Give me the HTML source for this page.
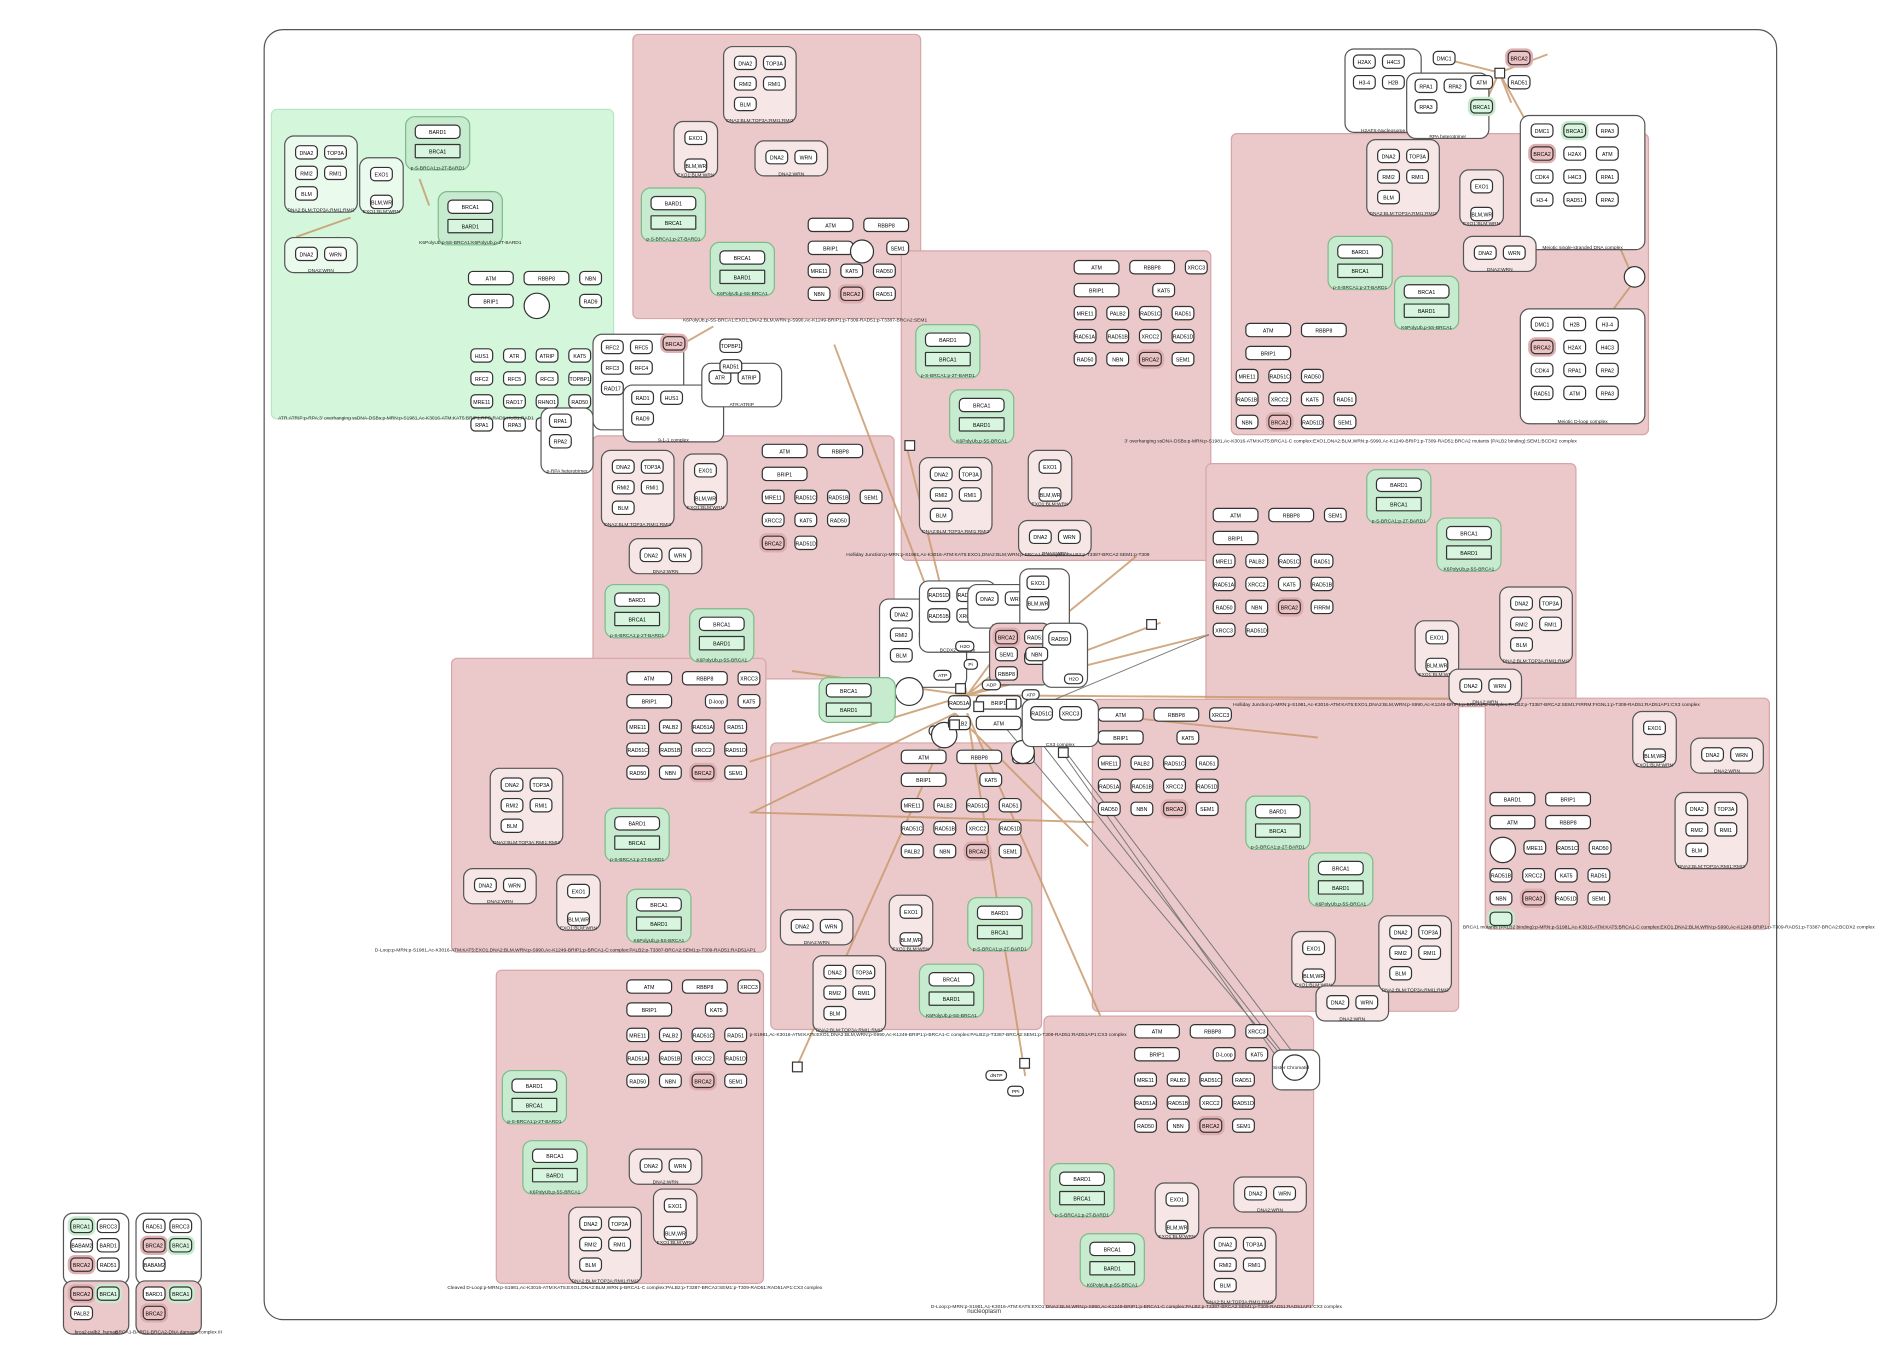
<!DOCTYPE html>
<html><head><meta charset="utf-8">
<style>
html,body{margin:0;padding:0;background:#fff;width:1886px;height:1350px;overflow:hidden}
#w{position:absolute;left:0;top:0;width:1560px;height:1117px;transform:scale(1.209);transform-origin:0 0;font-family:"Liberation Sans",sans-serif}
.o{position:absolute;left:218px;top:24px;width:1250px;height:1066px;border:1.3px solid #555;border-radius:16px}
.p{position:absolute;background:#ebc8ca;border:1px solid #d6a6a8;border-radius:5px}
.gc{position:absolute;background:#d4f7dc;border:1px solid #b8e6c2;border-radius:5px}
.c,.cw,.cg{position:absolute;display:grid;grid-template-columns:repeat(2,19px);grid-auto-rows:12px;gap:5px 5px;padding:7px 8px 9px;border:0.7px solid #555;border-radius:8px;background:#f6e6e6;align-content:start}
.cw{background:#fff}
.cg{background:#c6ebcf;border-color:#7dbb8a;grid-template-columns:38px;padding:6px 7px 9px;gap:4px}
.cg i:nth-child(2){background:#d8f6df;border-radius:1px}
.c b,.cw b,.cg b,.lb{position:absolute;left:-20px;right:-20px;bottom:-1px;font:normal 4px "Liberation Sans",sans-serif;text-align:center;white-space:nowrap;color:#222}
.lb{position:absolute;left:auto;right:auto;bottom:auto}
i{font-style:normal;display:block;height:12px;border:0.7px solid #333;border-radius:4px;background:#fff;font:4.3px "Liberation Sans",sans-serif;text-align:center;line-height:12px;white-space:nowrap;overflow:hidden;box-sizing:border-box}
i.w{width:38px}
i.r{background:#ebc3c4;box-shadow:0 0 0 2px #e0aeb0}
i.gg{background:#d8f6df;box-shadow:0 0 0 2px #c6ebcf}
.g{position:absolute;display:grid;grid-auto-rows:12px;gap:7px 8px;grid-template-columns:repeat(4,19px)}
.ci{position:absolute;border:0.7px solid #333;border-radius:50%;background:#fff}
.pl{position:absolute;height:7px;border:0.7px solid #333;border-radius:4px;background:#fff;font:4px "Liberation Sans",sans-serif;line-height:7px;text-align:center;padding:0 3px}
.sq{position:absolute;width:7px;height:7px;border:0.7px solid #333;background:#fff}
svg{position:absolute;left:0;top:0}
</style></head><body><div id="w">
<div class="o"></div>
<div style="position:absolute;left:800px;top:1082px;font:5px 'Liberation Sans';color:#333">nucleoplasm</div>

<!-- compartments -->
<div class="gc" style="left:224px;top:90px;width:282px;height:255px"></div>
<div class="p" style="left:523px;top:28px;width:237px;height:234px"></div>
<div class="p" style="left:745px;top:207px;width:255px;height:255px"></div>
<div class="p" style="left:1018px;top:110px;width:344px;height:248px"></div>
<div class="p" style="left:490px;top:360px;width:248px;height:200px"></div>
<div class="p" style="left:997px;top:383px;width:305px;height:200px"></div>
<div class="p" style="left:373px;top:544px;width:259px;height:242px"></div>
<div class="p" style="left:637px;top:614px;width:223px;height:236px"></div>
<div class="p" style="left:903px;top:578px;width:302px;height:257px"></div>
<div class="p" style="left:1228px;top:577px;width:234px;height:190px"></div>
<div class="p" style="left:410px;top:802px;width:220px;height:258px"></div>
<div class="p" style="left:863px;top:840px;width:222px;height:240px"></div>

<!-- lines -->
<svg width="1560" height="1117" viewBox="0 0 1560 1117">
<g stroke="#c99a6e" stroke-width="1.6" fill="none" opacity="0.85">
<path d="M800 575 L690 285"/><path d="M800 575 L750 370"/><path d="M800 575 L940 460"/>
<path d="M800 575 L1000 525"/><path d="M800 575 L1230 578"/><path d="M800 575 L620 630"/>
<path d="M790 590 L622 672"/><path d="M790 590 L900 700"/><path d="M800 590 L910 840"/>
<path d="M790 590 L660 880"/><path d="M800 590 L848 890"/><path d="M800 575 L655 555"/>
<path d="M800 575 L840 520"/><path d="M800 575 L960 515"/><path d="M805 580 L1090 610"/>
<path d="M620 672 L905 680"/><path d="M1240 60 L1280 45"/><path d="M1240 60 L1200 50"/>
<path d="M1240 60 L1250 85"/><path d="M1240 60 L1262 100"/><path d="M1240 60 L1224 95"/>
<path d="M1340 205 L1350 228"/><path d="M1350 235 L1335 255"/><path d="M555 290 L590 270"/><path d="M555 290 L520 320"/>
<path d="M245 196 L290 180"/><path d="M280 196 L262 212"/><path d="M347 148 L355 170"/>
</g>
<g stroke="#777" stroke-width="0.8" fill="none">
<path d="M830 600 L1070 885"/><path d="M850 600 L1068 880"/><path d="M870 610 L1060 880"/><path d="M880 620 L1075 878"/><path d="M845 590 L1000 525"/>
</g>
</svg>

<!-- GREEN compartment content -->
<div class="c" style="left:235px;top:112px;background:#eafbee"><i>DNA2</i><i>TOP3A</i><i>RMI2</i><i>RMI1</i><i>BLM</i><b>DNA2:BLM:TOP3A:RMI1:RMI2</b></div>
<div class="c" style="left:297px;top:130px;grid-template-columns:19px;background:#eafbee"><i>EXO1</i><i style="margin-top:6px">BLM,WRN</i><b>EXO1:BLM:WRN</b></div>
<div class="c" style="left:235px;top:196px;background:#eafbee"><i>DNA2</i><i>WRN</i><b>DNA2:WRN</b></div>
<div class="cg" style="left:335px;top:96px"><i class="w">BARD1</i><i class="w">BRCA1</i><b>p-S-BRCA1:p-2T-BARD1</b></div>
<div class="cg" style="left:362px;top:158px"><i class="w">BRCA1</i><i class="w">BARD1</i><b>K6PolyUb,p-5S-BRCA1:K6PolyUb,p-2T-BARD1</b></div>
<div class="g" style="left:387px;top:224px;grid-template-columns:38px 38px 19px"><i>ATM</i><i>RBBP8</i><i>NBN</i><i>BRIP1</i><i style="visibility:hidden"></i><i>RAD9</i></div>
<div class="ci" style="left:433px;top:242px;width:20px;height:20px"></div>
<div class="g" style="left:389px;top:288px"><i>HUS1</i><i>ATR</i><i>ATRIP</i><i>KAT5</i><i>RFC2</i><i>RFC5</i><i>RFC3</i><i>TOPBP1</i><i>MRE11</i><i>RAD17</i><i>RHNO1</i><i>RAD50</i><i>RPA1</i><i>RPA3</i><i>RFC4</i><i>RPA2</i></div>
<div class="lb" style="left:230px;top:343px">ATR:ATRIP:p-RPA:3' overhanging ssDNA-DSBs:p-MRN:p-S1981,Ac-K3016-ATM:KAT5:BRIP1:RFC:RAD9:HUS1:RAD1</div>
<!-- left small white cluster -->
<div class="cw" style="left:490px;top:276px;width:62px;height:70px;padding:4px 6px"><i>RFC2</i><i>RFC5</i><i>RFC3</i><i>RFC4</i><i>RAD17</i><b>RAD17-RFC</b></div>
<div class="cw" style="left:515px;top:318px;width:70px;height:38px;padding:4px 6px"><i>RAD1</i><i>HUS1</i><i>RAD9</i><b>9-1-1 complex</b></div>
<div class="cw" style="left:580px;top:300px;width:55px;height:25px;padding:5px"><i>ATR</i><i>ATRIP</i><b>ATR:ATRIP</b></div>
<div class="cw" style="left:447px;top:337px;width:30px;height:45px;grid-template-columns:19px;padding:4px 6px"><i>RPA1</i><i>RPA2</i><b>p-RPA heterotrimer</b></div>
<div class="g" style="left:595px;top:280px;grid-template-columns:19px;gap:5px"><i>TOPBP1</i><i>RAD51</i></div>
<i class="r" style="position:absolute;left:548px;top:278px;width:19px">BRCA2</i>

<!-- PINK A -->
<div class="c" style="left:598px;top:38px"><i>DNA2</i><i>TOP3A</i><i>RMI2</i><i>RMI1</i><i>BLM</i><b>DNA2:BLM:TOP3A:RMI1:RMI2</b></div>
<div class="c" style="left:557px;top:100px;grid-template-columns:19px"><i>EXO1</i><i style="margin-top:6px">BLM,WRN</i><b>EXO1:BLM:WRN</b></div>
<div class="c" style="left:624px;top:116px"><i>DNA2</i><i>WRN</i><b>DNA2:WRN</b></div>
<div class="cg" style="left:530px;top:155px"><i class="w">BARD1</i><i class="w">BRCA1</i><b>p-S-BRCA1:p-2T-BARD1</b></div>
<div class="cg" style="left:587px;top:200px"><i class="w">BRCA1</i><i class="w">BARD1</i><b>K6PolyUb,p-5S-BRCA1</b></div>
<div class="g" style="left:668px;top:180px;grid-template-columns:38px 38px"><i>ATM</i><i>RBBP8</i><i>BRIP1</i><i style="width:19px;margin-left:19px">SEM1</i></div>
<div class="g" style="left:668px;top:218px;grid-template-columns:repeat(3,19px)"><i>MRE11</i><i>KAT5</i><i>RAD50</i><i>NBN</i><i class="r">BRCA2</i><i>RAD51</i></div>
<div class="ci" style="left:703px;top:198px;width:18px;height:18px"></div>
<div class="lb" style="left:565px;top:262px">K6PolyUb,p-5S-BRCA1:EXO1,DNA2:BLM,WRN:p-S990,Ac-K1249-BRIP1:p-T309-RAD51:p-T3387-BRCA2:SEM1</div>

<!-- top right white complexes -->
<div class="cw" style="left:1112px;top:40px;width:50px;height:60px;padding:4px 6px"><i>H2AX</i><i>H4C3</i><i>H3-4</i><i>H2B</i><b>H2AFX-Nucleosome</b></div>
<div class="cw" style="left:1163px;top:60px;width:55px;height:45px;padding:4px 6px"><i>RPA1</i><i>RPA2</i><i>RPA3</i><b>RPA heterotrimer</b></div>
<div class="g" style="left:1185px;top:42px;grid-template-columns:19px 19px 19px;gap:8px 12px"><i>DMC1</i><i class="r" style="grid-column:3">BRCA2</i><i style="grid-column:2">ATM</i><i>RAD51</i><i style="grid-column:1;margin-left:30px">CDK4</i><i class="gg" style="grid-column:2">BRCA1</i></div>
<div class="cw" style="left:1257px;top:95px;width:86px;height:98px;grid-template-columns:repeat(3,19px);gap:7px 8px;padding:6px 8px"><i>DMC1</i><i class="gg">BRCA1</i><i>RPA3</i><i class="r">BRCA2</i><i>H2AX</i><i>ATM</i><i>CDK4</i><i>H4C3</i><i>RPA1</i><i>H3-4</i><i>RAD51</i><i>RPA2</i><b>Meiotic single-stranded DNA complex</b></div>
<div class="cw" style="left:1257px;top:255px;width:86px;height:82px;grid-template-columns:repeat(3,19px);gap:7px 8px;padding:6px 8px"><i>DMC1</i><i>H2B</i><i>H3-4</i><i class="r">BRCA2</i><i>H2AX</i><i>H4C3</i><i>CDK4</i><i>RPA1</i><i>RPA2</i><i>RAD51</i><i>ATM</i><i>RPA3</i><b>Meiotic D-loop complex</b></div>
<div class="ci" style="left:1343px;top:220px;width:16px;height:16px"></div>
<div class="sq" style="left:1236px;top:56px"></div>

<!-- PINK B -->
<div class="cg" style="left:757px;top:268px"><i class="w">BARD1</i><i class="w">BRCA1</i><b>p-S-BRCA1:p-2T-BARD1</b></div>
<div class="cg" style="left:785px;top:322px"><i class="w">BRCA1</i><i class="w">BARD1</i><b>K6PolyUb,p-5S-BRCA1</b></div>
<div class="g" style="left:888px;top:215px;grid-template-columns:38px 38px 19px"><i>ATM</i><i>RBBP8</i><i>XRCC3</i><i>BRIP1</i><i style="width:19px;margin-left:19px">KAT5</i></div>
<div class="g" style="left:888px;top:253px;grid-template-columns:repeat(4,19px)"><i>MRE11</i><i>PALB2</i><i>RAD51C</i><i>RAD51</i><i>RAD51AP1</i><i>RAD51B</i><i>XRCC2</i><i>RAD51D</i><i>RAD50</i><i>NBN</i><i class="r">BRCA2</i><i>SEM1</i></div>
<div class="c" style="left:760px;top:378px"><i>DNA2</i><i>TOP3A</i><i>RMI2</i><i>RMI1</i><i>BLM</i><b>DNA2:BLM:TOP3A:RMI1:RMI2</b></div>
<div class="c" style="left:850px;top:372px;grid-template-columns:19px"><i>EXO1</i><i style="margin-top:6px">BLM,WRN</i><b>EXO1:BLM:WRN</b></div>
<div class="c" style="left:842px;top:430px"><i>DNA2</i><i>WRN</i><b>DNA2:WRN</b></div>
<div class="lb" style="left:930px;top:362px">3' overhanging ssDNA-DSBs:p-MRN:p-S1981,Ac-K3016-ATM:KAT5:BRCA1-C complex:EXO1,DNA2:BLM,WRN:p-S990,Ac-K1249-BRIP1:p-T309-RAD51:BRCA2 mutants (PALB2 binding):SEM1:BCDX2 complex</div>

<!-- PINK C -->
<div class="c" style="left:1130px;top:115px"><i>DNA2</i><i>TOP3A</i><i>RMI2</i><i>RMI1</i><i>BLM</i><b>DNA2:BLM:TOP3A:RMI1:RMI2</b></div>
<div class="c" style="left:1207px;top:140px;grid-template-columns:19px"><i>EXO1</i><i style="margin-top:6px">BLM,WRN</i><b>EXO1:BLM:WRN</b></div>
<div class="c" style="left:1210px;top:195px"><i>DNA2</i><i>WRN</i><b>DNA2:WRN</b></div>
<div class="cg" style="left:1098px;top:195px"><i class="w">BARD1</i><i class="w">BRCA1</i><b>p-S-BRCA1:p-2T-BARD1</b></div>
<div class="cg" style="left:1153px;top:228px"><i class="w">BRCA1</i><i class="w">BARD1</i><b>K6PolyUb,p-5S-BRCA1</b></div>
<div class="g" style="left:1030px;top:267px;grid-template-columns:38px 38px"><i>ATM</i><i>RBBP8</i><i>BRIP1</i></div>
<div class="g" style="left:1022px;top:305px;grid-template-columns:repeat(4,19px)"><i>MRE11</i><i>RAD51C</i><i>RAD50</i><i style="visibility:hidden"></i><i>RAD51B</i><i>XRCC2</i><i>KAT5</i><i>RAD51</i><i>NBN</i><i class="r">BRCA2</i><i>RAD51D</i><i>SEM1</i></div>

<!-- PINK D -->
<div class="c" style="left:497px;top:372px"><i>DNA2</i><i>TOP3A</i><i>RMI2</i><i>RMI1</i><i>BLM</i><b>DNA2:BLM:TOP3A:RMI1:RMI2</b></div>
<div class="c" style="left:565px;top:375px;grid-template-columns:19px"><i>EXO1</i><i style="margin-top:6px">BLM,WRN</i><b>EXO1:BLM:WRN</b></div>
<div class="c" style="left:520px;top:445px"><i>DNA2</i><i>WRN</i><b>DNA2:WRN</b></div>
<div class="cg" style="left:500px;top:483px"><i class="w">BARD1</i><i class="w">BRCA1</i><b>p-S-BRCA1:p-2T-BARD1</b></div>
<div class="cg" style="left:570px;top:503px"><i class="w">BRCA1</i><i class="w">BARD1</i><b>K6PolyUb,p-5S-BRCA1</b></div>
<div class="g" style="left:630px;top:367px;grid-template-columns:38px 38px"><i>ATM</i><i>RBBP8</i><i>BRIP1</i></div>
<div class="g" style="left:630px;top:405px;grid-template-columns:repeat(4,19px)"><i>MRE11</i><i>RAD51C</i><i>RAD51B</i><i>SEM1</i><i>XRCC2</i><i>KAT5</i><i>RAD50</i><i style="visibility:hidden"></i><i class="r">BRCA2</i><i>RAD51D</i></div>

<!-- PINK E -->
<div class="g" style="left:1003px;top:420px;grid-template-columns:38px 38px 19px"><i>ATM</i><i>RBBP8</i><i>SEM1</i><i>BRIP1</i></div>
<div class="g" style="left:1003px;top:458px;grid-template-columns:repeat(4,19px)"><i>MRE11</i><i>PALB2</i><i>RAD51C</i><i>RAD51</i><i>RAD51AP1</i><i>XRCC2</i><i>KAT5</i><i>RAD51B</i><i>RAD50</i><i>NBN</i><i class="r">BRCA2</i><i>FIRRM</i><i>XRCC3</i><i>RAD51D</i></div>
<div class="cg" style="left:1130px;top:388px"><i class="w">BARD1</i><i class="w">BRCA1</i><b>p-S-BRCA1:p-2T-BARD1</b></div>
<div class="cg" style="left:1188px;top:428px"><i class="w">BRCA1</i><i class="w">BARD1</i><b>K6PolyUb,p-5S-BRCA1</b></div>
<div class="c" style="left:1240px;top:485px"><i>DNA2</i><i>TOP3A</i><i>RMI2</i><i>RMI1</i><i>BLM</i><b>DNA2:BLM:TOP3A:RMI1:RMI2</b></div>
<div class="c" style="left:1170px;top:513px;grid-template-columns:19px"><i>EXO1</i><i style="margin-top:6px">BLM,WRN</i><b>EXO1:BLM:WRN</b></div>
<div class="c" style="left:1198px;top:553px"><i>DNA2</i><i>WRN</i><b>DNA2:WRN</b></div>

<!-- PINK F -->
<div class="g" style="left:518px;top:555px;grid-template-columns:38px 38px 19px"><i>ATM</i><i>RBBP8</i><i>XRCC3</i><i>BRIP1</i><i style="width:19px;margin-left:19px">D-loop</i><i>KAT5</i></div>
<div class="g" style="left:518px;top:595px;grid-template-columns:repeat(4,19px)"><i>MRE11</i><i>PALB2</i><i>RAD51AP1</i><i>RAD51</i><i>RAD51C</i><i>RAD51B</i><i>XRCC2</i><i>RAD51D</i><i>RAD50</i><i>NBN</i><i class="r">BRCA2</i><i>SEM1</i></div>
<div class="c" style="left:405px;top:635px"><i>DNA2</i><i>TOP3A</i><i>RMI2</i><i>RMI1</i><i>BLM</i><b>DNA2:BLM:TOP3A:RMI1:RMI2</b></div>
<div class="c" style="left:383px;top:718px"><i>DNA2</i><i>WRN</i><b>DNA2:WRN</b></div>
<div class="c" style="left:460px;top:723px;grid-template-columns:19px"><i>EXO1</i><i style="margin-top:6px">BLM,WRN</i><b>EXO1:BLM:WRN</b></div>
<div class="cg" style="left:500px;top:668px"><i class="w">BARD1</i><i class="w">BRCA1</i><b>p-S-BRCA1:p-2T-BARD1</b></div>
<div class="cg" style="left:518px;top:735px"><i class="w">BRCA1</i><i class="w">BARD1</i><b>K6PolyUb,p-5S-BRCA1</b></div>
<div class="lb" style="left:310px;top:783px">D-Loop:p-MRN:p-S1981,Ac-K3016-ATM:KAT5:EXO1,DNA2:BLM,WRN:p-S990,Ac-K1249-BRIP1:p-BRCA1-C complex:PALB2:p-T3387-BRCA2:SEM1:p-T309-RAD51:RAD51AP1</div>

<!-- PINK G -->
<div class="g" style="left:745px;top:620px;grid-template-columns:38px 38px 19px"><i>ATM</i><i>RBBP8</i><i>XRCC3</i><i>BRIP1</i><i style="width:19px;margin-left:19px">KAT5</i></div>
<div class="g" style="left:745px;top:660px;grid-template-columns:repeat(4,19px)"><i>MRE11</i><i>PALB2</i><i>RAD51C</i><i>RAD51</i><i>RAD51C</i><i>RAD51B</i><i>XRCC2</i><i>RAD51D</i><i>PALB2</i><i>NBN</i><i class="r">BRCA2</i><i>SEM1</i></div>
<div class="c" style="left:645px;top:752px"><i>DNA2</i><i>WRN</i><b>DNA2:WRN</b></div>
<div class="c" style="left:735px;top:740px;grid-template-columns:19px"><i>EXO1</i><i style="margin-top:6px">BLM,WRN</i><b>EXO1:BLM:WRN</b></div>
<div class="cg" style="left:800px;top:742px"><i class="w">BARD1</i><i class="w">BRCA1</i><b>p-S-BRCA1:p-2T-BARD1</b></div>
<div class="cg" style="left:760px;top:797px"><i class="w">BRCA1</i><i class="w">BARD1</i><b>K6PolyUb,p-5S-BRCA1</b></div>
<div class="c" style="left:672px;top:790px"><i>DNA2</i><i>TOP3A</i><i>RMI2</i><i>RMI1</i><i>BLM</i><b>DNA2:BLM:TOP3A:RMI1:RMI2</b></div>
<div class="lb" style="left:620px;top:853px">p-S1981,Ac-K3016-ATM:KAT5:EXO1,DNA2:BLM,WRN:p-S990,Ac-K1249-BRIP1:p-BRCA1-C complex:PALB2:p-T3387-BRCA2:SEM1:p-T309-RAD51:RAD51AP1:CX3 complex</div>

<!-- PINK H -->
<div class="g" style="left:908px;top:585px;grid-template-columns:38px 38px 19px"><i>ATM</i><i>RBBP8</i><i>XRCC3</i><i>BRIP1</i><i style="width:19px;margin-left:19px">KAT5</i></div>
<div class="g" style="left:908px;top:625px;grid-template-columns:repeat(4,19px)"><i>MRE11</i><i>PALB2</i><i>RAD51C</i><i>RAD51</i><i>RAD51AP1</i><i>RAD51B</i><i>XRCC2</i><i>RAD51D</i><i>RAD50</i><i>NBN</i><i class="r">BRCA2</i><i>SEM1</i></div>
<div class="cg" style="left:1030px;top:658px"><i class="w">BARD1</i><i class="w">BRCA1</i><b>p-S-BRCA1:p-2T-BARD1</b></div>
<div class="cg" style="left:1082px;top:705px"><i class="w">BRCA1</i><i class="w">BARD1</i><b>K6PolyUb,p-5S-BRCA1</b></div>
<div class="c" style="left:1068px;top:770px;grid-template-columns:19px"><i>EXO1</i><i style="margin-top:6px">BLM,WRN</i><b>EXO1:BLM:WRN</b></div>
<div class="c" style="left:1088px;top:815px"><i>DNA2</i><i>WRN</i><b>DNA2:WRN</b></div>
<div class="c" style="left:1140px;top:757px"><i>DNA2</i><i>TOP3A</i><i>RMI2</i><i>RMI1</i><i>BLM</i><b>DNA2:BLM:TOP3A:RMI1:RMI2</b></div>
<div class="lb" style="left:1020px;top:580px">Holliday Junction:p-MRN:p-S1981,Ac-K3016-ATM:KAT5:EXO1,DNA2:BLM,WRN:p-S990,Ac-K1249-BRIP1:p-BRCA1-C complex:PALB2:p-T3387-BRCA2:SEM1:FIRRM:FIGNL1:p-T309-RAD51:RAD51AP1:CX3 complex</div>

<!-- PINK I -->
<div class="g" style="left:1232px;top:655px;grid-template-columns:38px 38px"><i>BARD1</i><i>BRIP1</i><i>ATM</i><i>RBBP8</i></div>
<div class="g" style="left:1260px;top:695px;grid-template-columns:repeat(3,19px)"><i>MRE11</i><i>RAD51C</i><i>RAD50</i></div>
<div class="ci" style="left:1232px;top:692px;width:20px;height:20px"></div>
<div class="g" style="left:1232px;top:718px;grid-template-columns:repeat(4,19px)"><i>RAD51B</i><i>XRCC2</i><i>KAT5</i><i>RAD51</i><i>NBN</i><i class="r">BRCA2</i><i>RAD51D</i><i>SEM1</i></div>
<i class="gg" style="position:absolute;left:1232px;top:754px;width:19px"> </i>
<div class="c" style="left:1350px;top:588px;grid-template-columns:19px"><i>EXO1</i><i style="margin-top:6px">BLM,WRN</i><b>EXO1:BLM:WRN</b></div>
<div class="c" style="left:1398px;top:610px"><i>DNA2</i><i>WRN</i><b>DNA2:WRN</b></div>
<div class="c" style="left:1385px;top:655px"><i>DNA2</i><i>TOP3A</i><i>RMI2</i><i>RMI1</i><i>BLM</i><b>DNA2:BLM:TOP3A:RMI1:RMI2</b></div>
<div class="lb" style="left:1210px;top:764px">BRCA1 mutants (PALB2 binding):p-MRN:p-S1981,Ac-K3016-ATM:KAT5:BRCA1-C complex:EXO1,DNA2:BLM,WRN:p-S990,Ac-K1249-BRIP1:p-T309-RAD51:p-T3387-BRCA2:BCDX2 complex</div>

<!-- PINK J -->
<div class="g" style="left:518px;top:810px;grid-template-columns:38px 38px 19px"><i>ATM</i><i>RBBP8</i><i>XRCC3</i><i>BRIP1</i><i style="width:19px;margin-left:19px">KAT5</i></div>
<div class="g" style="left:518px;top:850px;grid-template-columns:repeat(4,19px)"><i>MRE11</i><i>PALB2</i><i>RAD51C</i><i>RAD51</i><i>RAD51AP1</i><i>RAD51B</i><i>XRCC2</i><i>RAD51D</i><i>RAD50</i><i>NBN</i><i class="r">BRCA2</i><i>SEM1</i></div>
<div class="cg" style="left:415px;top:885px"><i class="w">BARD1</i><i class="w">BRCA1</i><b>p-S-BRCA1:p-2T-BARD1</b></div>
<div class="cg" style="left:432px;top:943px"><i class="w">BRCA1</i><i class="w">BARD1</i><b>K6PolyUb,p-5S-BRCA1</b></div>
<div class="c" style="left:520px;top:950px"><i>DNA2</i><i>WRN</i><b>DNA2:WRN</b></div>
<div class="c" style="left:540px;top:983px;grid-template-columns:19px"><i>EXO1</i><i style="margin-top:6px">BLM,WRN</i><b>EXO1:BLM:WRN</b></div>
<div class="c" style="left:470px;top:998px"><i>DNA2</i><i>TOP3A</i><i>RMI2</i><i>RMI1</i><i>BLM</i><b>DNA2:BLM:TOP3A:RMI1:RMI2</b></div>
<div class="lb" style="left:370px;top:1062px">Cleaved D-Loop:p-MRN:p-S1981,Ac-K3016-ATM:KAT5:EXO1,DNA2:BLM,WRN:p-BRCA1-C complex:PALB2:p-T3387-BRCA2:SEM1:p-T309-RAD51:RAD51AP1:CX3 complex</div>

<!-- PINK K -->
<div class="g" style="left:938px;top:847px;grid-template-columns:38px 38px 19px"><i>ATM</i><i>RBBP8</i><i>XRCC3</i><i>BRIP1</i><i style="width:19px;margin-left:19px">D-Loop</i><i>KAT5</i></div>
<div class="g" style="left:938px;top:887px;grid-template-columns:repeat(4,19px)"><i>MRE11</i><i>PALB2</i><i>RAD51C</i><i>RAD51</i><i>RAD51AP1</i><i>RAD51B</i><i>XRCC2</i><i>RAD51D</i><i>RAD50</i><i>NBN</i><i class="r">BRCA2</i><i>SEM1</i></div>
<div class="cg" style="left:868px;top:962px"><i class="w">BARD1</i><i class="w">BRCA1</i><b>p-S-BRCA1:p-2T-BARD1</b></div>
<div class="cg" style="left:893px;top:1020px"><i class="w">BRCA1</i><i class="w">BARD1</i><b>K6PolyUb,p-5S-BRCA1</b></div>
<div class="c" style="left:955px;top:978px;grid-template-columns:19px"><i>EXO1</i><i style="margin-top:6px">BLM,WRN</i><b>EXO1:BLM:WRN</b></div>
<div class="c" style="left:1020px;top:973px"><i>DNA2</i><i>WRN</i><b>DNA2:WRN</b></div>
<div class="c" style="left:995px;top:1015px"><i>DNA2</i><i>TOP3A</i><i>RMI2</i><i>RMI1</i><i>BLM</i><b>DNA2:BLM:TOP3A:RMI1:RMI2</b></div>
<div class="lb" style="left:770px;top:1078px">D-Loop:p-MRN:p-S1981,Ac-K3016-ATM:KAT5:EXO1,DNA2:BLM,WRN:p-S990,Ac-K1249-BRIP1:p-BRCA1-C complex:PALB2:p-T3387-BRCA2:SEM1:p-T309-RAD51:RAD51AP1:CX3 complex</div>
<div class="cw" style="left:1052px;top:868px;width:34px;height:28px;padding:2px"></div>
<div class="ci" style="left:1060px;top:872px;width:20px;height:20px"></div>
<div class="lb" style="left:1053px;top:880px">Sister Chromatid</div>

<!-- central cluster -->
<div class="cw" style="left:727px;top:495px;width:55px;height:60px;padding:6px 8px"><i>DNA2</i><i>TOP3A</i><i>RMI2</i><i>RMI1</i><i>BLM</i></div>
<div class="cw" style="left:760px;top:480px;width:50px;height:48px;padding:5px 6px"><i>RAD51D</i><i>RAD51C</i><i>RAD51B</i><i>XRCC2</i><b>BCDX2 complex</b></div>
<div class="cw" style="left:800px;top:483px;width:48px;height:25px;padding:5px 6px"><i>DNA2</i><i>WRN</i><b>DNA2:WRN</b></div>
<div class="cw" style="left:843px;top:470px;width:30px;height:42px;grid-template-columns:19px;padding:5px 5px"><i>EXO1</i><i>BLM,WRN</i><b>EXO1:BLM:WRN</b></div>
<div class="cw" style="left:818px;top:515px;width:42px;height:40px;padding:5px 4px;background:#ecc8ca"><i class="r">BRCA2</i><i>RAD51</i><i style="visibility:hidden"></i><i>RAD50</i></div>
<div class="cw" style="left:862px;top:515px;width:28px;height:40px;grid-template-columns:19px;padding:6px 4px"><i>RAD50</i></div>
<div class="g" style="left:823px;top:535px;grid-template-columns:19px 19px;gap:4px 6px"><i>SEM1</i><i>NBN</i><i>RBBP8</i></div>
<div class="pl" style="left:772px;top:554px">ATP</div><div class="pl" style="left:812px;top:562px">ADP</div><div class="pl" style="left:845px;top:570px">ATP</div><div class="pl" style="left:855px;top:583px">ADP</div><div class="pl" style="left:797px;top:545px">Pi</div><div class="pl" style="left:768px;top:600px">Pi</div><div class="pl" style="left:880px;top:557px">H2O</div><div class="pl" style="left:790px;top:530px">H2O</div>
<div class="ci" style="left:740px;top:560px;width:22px;height:22px"></div>
<div class="ci" style="left:770px;top:597px;width:20px;height:20px"></div>
<div class="ci" style="left:845px;top:593px;width:20px;height:20px"></div>
<div class="ci" style="left:836px;top:612px;width:18px;height:18px"></div>
<div class="g" style="left:784px;top:575px;grid-template-columns:19px 38px;gap:5px 4px"><i>RAD51AP1</i><i>BRIP1</i><i>PALB2</i><i>ATM</i></div>
<div class="cw" style="left:845px;top:578px;width:50px;height:28px;padding:5px 6px"><i>RAD51C</i><i>XRCC3</i><b>CX3 complex</b></div>
<div class="cg" style="left:677px;top:560px;width:52px;padding:4px 5px"><i class="w">BRCA1</i><i class="w">BARD1</i></div>
<div class="sq" style="left:790px;top:565px"></div><div class="sq" style="left:805px;top:580px"></div><div class="sq" style="left:832px;top:578px"></div><div class="sq" style="left:748px;top:364px"></div><div class="sq" style="left:948px;top:512px"></div><div class="sq" style="left:875px;top:618px"></div><div class="sq" style="left:655px;top:878px"></div><div class="sq" style="left:843px;top:875px"></div><div class="sq" style="left:785px;top:595px"></div>
<div class="pl" style="left:815px;top:885px">dNTP</div><div class="pl" style="left:833px;top:898px">PPi</div>
<div class="lb" style="left:700px;top:456px">Holliday Junction:p-MRN:p-S1981,Ac-K3016-ATM:KAT5:EXO1,DNA2:BLM,WRN:p-BRCA1-C complex:PALB2:p-T3387-BRCA2:SEM1:p-T309</div>

<!-- legend -->
<div class="cw" style="left:52px;top:1003px;width:43px;height:50px;padding:4px 5px;gap:4px 3px"><i class="gg">BRCA1</i><i>BRCC3</i><i>BABAM2</i><i>BARD1</i><i class="r">BRCA2</i><i>RAD51</i><b>brcc_human</b></div>
<div class="cw" style="left:112px;top:1003px;width:43px;height:50px;padding:4px 5px;gap:4px 3px"><i>RAD51</i><i>BRCC3</i><i class="r">BRCA2</i><i class="gg">BRCA1</i><i>BABAM2</i><b>BRCC complex</b></div>
<div class="cw" style="left:52px;top:1059px;width:43px;height:35px;padding:4px 5px;gap:4px 3px;background:#ebc8ca"><i class="r">BRCA2</i><i class="gg">BRCA1</i><i>PALB2</i><b>brca2-palb2_human</b></div>
<div class="cw" style="left:112px;top:1059px;width:43px;height:35px;padding:4px 5px;gap:4px 3px;background:#ebc8ca"><i>BARD1</i><i class="gg">BRCA1</i><i class="r">BRCA2</i><b>BRCA1-BARD1-BRCA2-DNA damage complex III</b></div>
</div></body></html>
